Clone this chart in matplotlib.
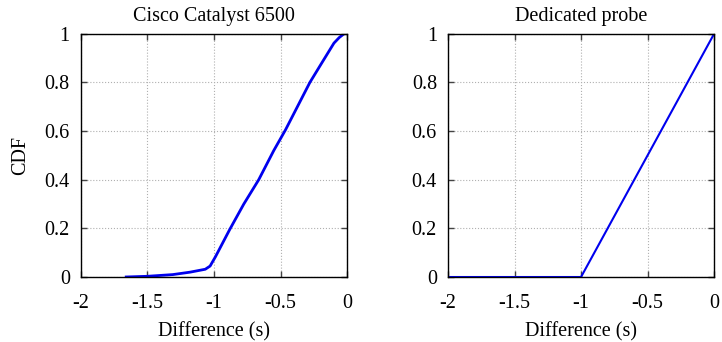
import numpy as np
import matplotlib
matplotlib.use("Agg")
import matplotlib.pyplot as plt
from matplotlib.ticker import FormatStrFormatter

plt.rcParams['font.family'] = ['Liberation Serif', 'DejaVu Serif']
plt.rcParams['axes.unicode_minus'] = False

# CDF of timestamp differences, switch vs. probe
cisco_x = [-1.67, -1.50, -1.31, -1.18, -1.066, -1.03, -0.99, -0.883, -0.777, -0.665,
           -0.552, -0.464, -0.281, -0.193, -0.10, -0.06, -0.025]
cisco_y = [0.0, 0.003, 0.01, 0.02, 0.032, 0.045, 0.083, 0.195, 0.30, 0.40,
           0.52, 0.605, 0.80, 0.879, 0.962, 0.985, 1.0]

probe_x = [-2.0, -1.0, -0.5, 0.0]
probe_y = [0.0, 0.0, 0.5, 1.0]

titles = ["Cisco Catalyst 6500", "Dedicated probe"]
x_ticks = [-2, -1.5, -1, -0.5, 0]
y_ticks = [0, 0.2, 0.4, 0.6, 0.8, 1]

fig = plt.figure(figsize=(7.22, 3.42), dpi=100)
ax1 = fig.add_axes([0.112, 0.19, 0.369, 0.711])
ax2 = fig.add_axes([0.6205, 0.19, 0.3685, 0.711])

panels = [(ax1, cisco_x, cisco_y, titles[0], 2.0),
          (ax2, probe_x, probe_y, titles[1], 1.5)]
for ax, xs, ys, title, lw in panels:
    ax.plot(xs, ys, color='#0000ee', lw=lw, solid_capstyle='butt')
    ax.set_xlim(-2, 0)
    ax.set_ylim(0, 1)
    ax.set_xticks(x_ticks)
    ax.set_yticks(y_ticks)
    ax.xaxis.set_major_formatter(FormatStrFormatter('%g'))
    ax.yaxis.set_major_formatter(FormatStrFormatter('%g'))
    ax.grid(True, color='#b0b0b0', linestyle=':', linewidth=0.8)
    ax.tick_params(direction='in', length=4, width=1, labelsize=14.5,
                   top=True, right=True, pad=8, colors='#444444', labelcolor='black')
    ax.tick_params(axis='x', pad=12)
    for s in ax.spines.values():
        s.set_linewidth(1.0)
    ax.set_title(title, fontsize=14.5, pad=9)
    ax.set_xlabel("Difference (s)", fontsize=14.5, labelpad=7)

ax1.set_ylabel("CDF", fontsize=14.5, labelpad=10)

fig.savefig("out.png", dpi=100)
